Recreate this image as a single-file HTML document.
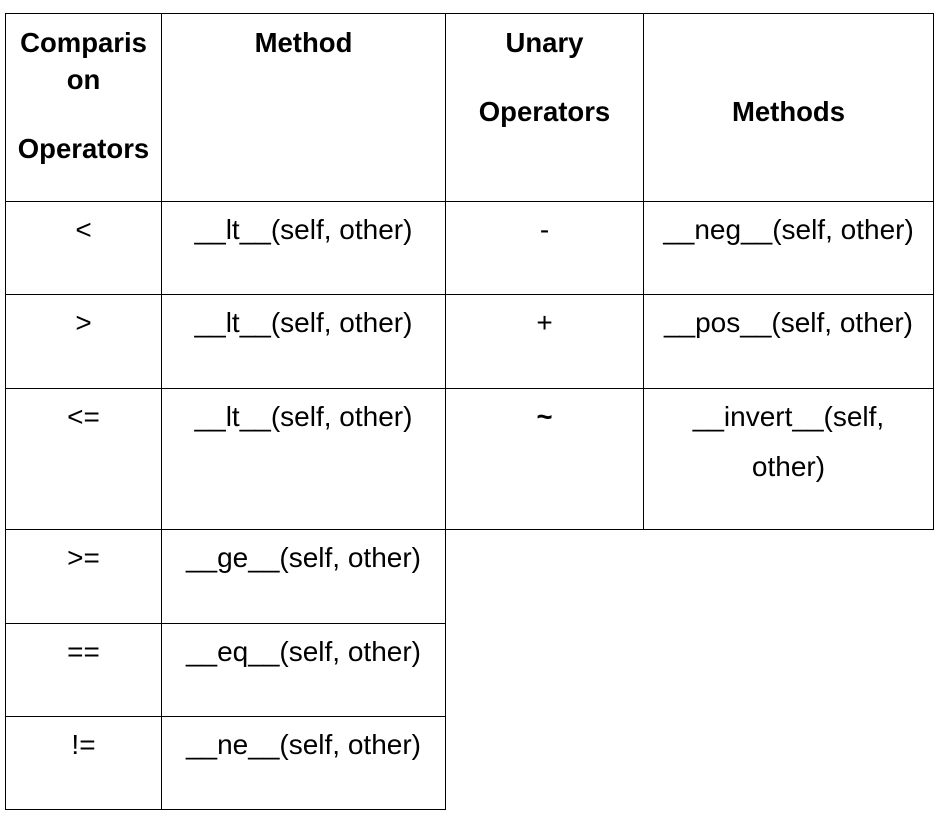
<!DOCTYPE html>
<html><head><meta charset="utf-8"><style>
body{margin:0;width:943px;height:820px;background:#fff;position:relative;font-family:"Liberation Sans",Arial,sans-serif;font-size:28px;color:#000;overflow:hidden}
.h{position:absolute;height:1px;background:#000}
.v{position:absolute;width:1px;background:#000}
.t{position:absolute;text-align:center;line-height:30px;white-space:nowrap}
.b{font-weight:bold;font-size:27.5px}
</style></head><body>
<div class="h" style="left:5px;width:929px;top:13px"></div>
<div class="h" style="left:5px;width:929px;top:201px"></div>
<div class="h" style="left:5px;width:929px;top:294px"></div>
<div class="h" style="left:5px;width:929px;top:388px"></div>
<div class="h" style="left:5px;width:929px;top:529px"></div>
<div class="h" style="left:5px;width:441px;top:623px"></div>
<div class="h" style="left:5px;width:441px;top:716px"></div>
<div class="h" style="left:5px;width:441px;top:809px"></div>
<div class="v" style="left:5px;top:13px;height:797px"></div>
<div class="v" style="left:161px;top:13px;height:797px"></div>
<div class="v" style="left:445px;top:13px;height:797px"></div>
<div class="v" style="left:643px;top:13px;height:517px"></div>
<div class="v" style="left:933px;top:13px;height:517px"></div>

<div class="t b" style="left:5px;width:157px;top:28px">Comparis</div>
<div class="t b" style="left:5px;width:157px;top:65px">on</div>
<div class="t b" style="left:5px;width:157px;top:134px">Operators</div>
<div class="t b" style="left:161px;width:285px;top:28px">Method</div>
<div class="t b" style="left:445px;width:199px;top:28px">Unary</div>
<div class="t b" style="left:445px;width:199px;top:97px">Operators</div>
<div class="t b" style="left:643px;width:291px;top:97px">Methods</div>

<div class="t" style="left:5px;width:157px;top:215px">&lt;</div>
<div class="t" style="left:161px;width:285px;top:215px">__lt__(self, other)</div>
<div class="t" style="left:445px;width:199px;top:215px">-</div>
<div class="t" style="left:643px;width:291px;top:215px">__neg__(self, other)</div>

<div class="t" style="left:5px;width:157px;top:308px">&gt;</div>
<div class="t" style="left:161px;width:285px;top:308px">__lt__(self, other)</div>
<div class="t" style="left:445px;width:199px;top:308px">+</div>
<div class="t" style="left:643px;width:291px;top:308px">__pos__(self, other)</div>

<div class="t" style="left:5px;width:157px;top:402px">&lt;=</div>
<div class="t" style="left:161px;width:285px;top:402px">__lt__(self, other)</div>
<div class="t b" style="left:445px;width:199px;top:402px">~</div>
<div class="t" style="left:643px;width:291px;top:402px">__invert__(self,</div>
<div class="t" style="left:643px;width:291px;top:452px">other)</div>

<div class="t" style="left:5px;width:157px;top:543px">&gt;=</div>
<div class="t" style="left:161px;width:285px;top:543px">__ge__(self, other)</div>
<div class="t" style="left:5px;width:157px;top:637px">==</div>
<div class="t" style="left:161px;width:285px;top:637px">__eq__(self, other)</div>
<div class="t" style="left:5px;width:157px;top:730px">!=</div>
<div class="t" style="left:161px;width:285px;top:730px">__ne__(self, other)</div>
</body></html>
